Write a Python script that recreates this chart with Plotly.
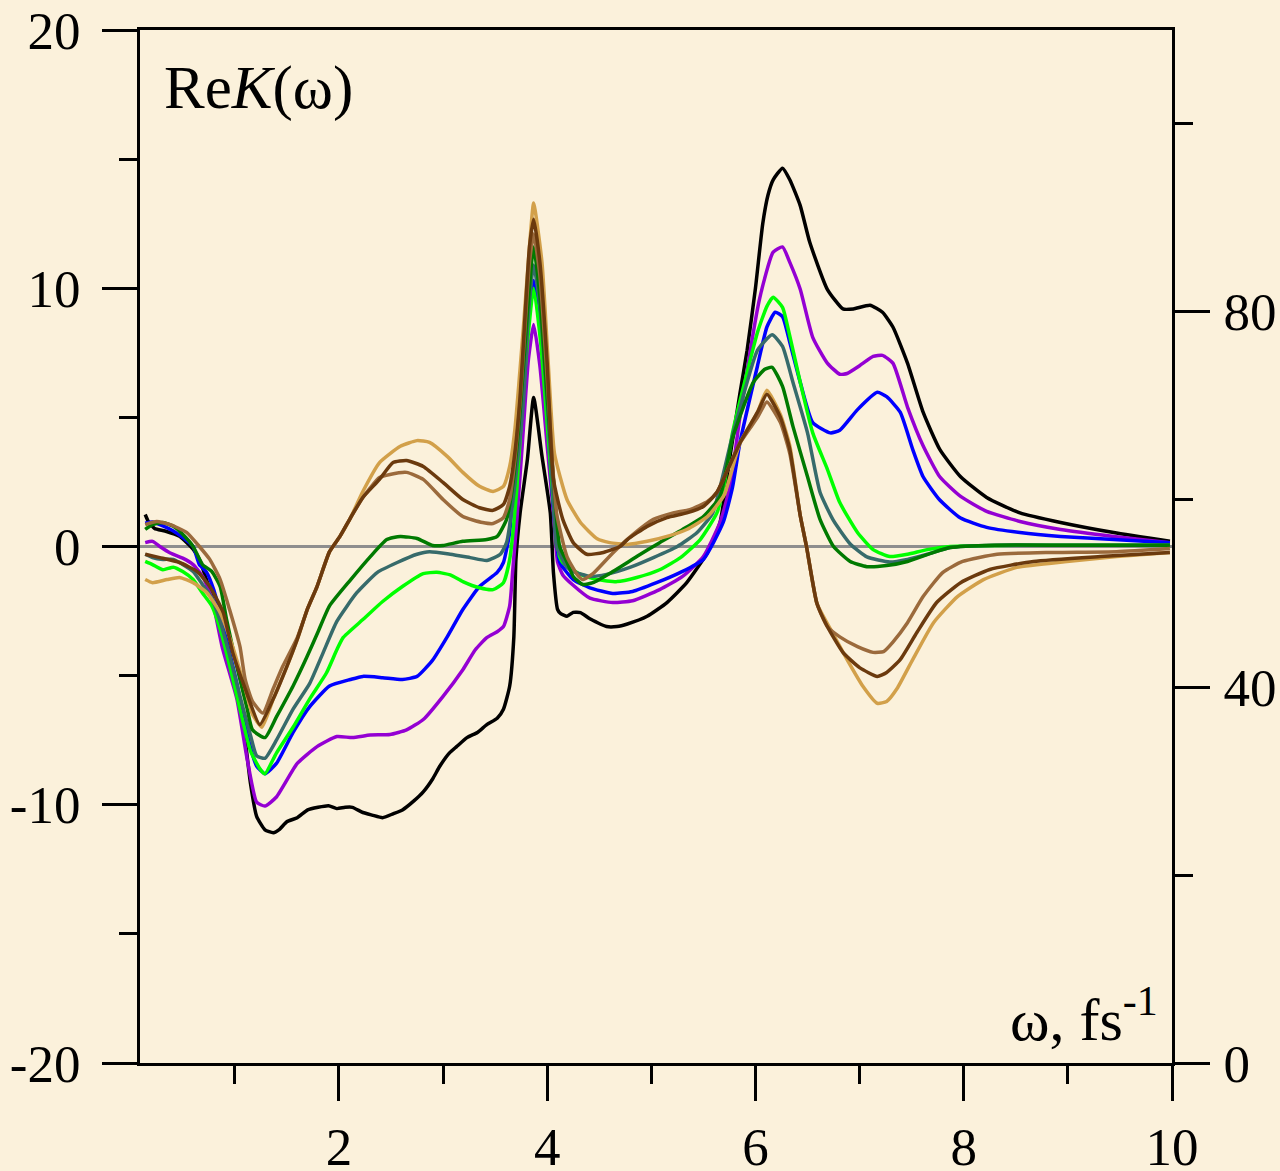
import plotly.graph_objects as go

# ---------------- data ----------------
black_x = [0.14,0.17,0.23,0.33,0.47,0.60,0.66,0.73,0.80,0.86,0.92,1.02,1.10,1.15,1.21,1.29,1.37,1.43,1.50,1.60,1.70,1.80,1.90,1.98,2.06,2.13,2.23,2.32,2.42,2.52,2.61,2.72,2.81,2.90,2.97,3.06,3.13,3.23,3.33,3.42,3.52,3.58,3.64,3.68,3.70,3.74,3.81,3.87,3.95,4.03,4.06,4.10,4.13,4.19,4.25,4.32,4.41,4.57,4.67,4.77,4.96,5.15,5.34,5.54,5.66,5.76,5.85,5.92,6.00,6.07,6.12,6.17,6.26,6.33,6.43,6.52,6.69,6.84,6.94,7.10,7.22,7.32,7.46,7.61,7.77,7.97,8.22,8.54,8.93,9.44,9.98]
black_y = [1.24,0.97,0.7,0.6,0.4,-0.1,-0.5,-1.3,-2.2,-3.0,-4.0,-5.65,-7.5,-9.15,-10.45,-10.97,-11.08,-10.95,-10.66,-10.5,-10.2,-10.1,-10.04,-10.15,-10.1,-10.1,-10.3,-10.4,-10.5,-10.35,-10.2,-9.85,-9.5,-9.0,-8.5,-8.0,-7.75,-7.4,-7.2,-6.9,-6.65,-6.3,-5.4,-3.5,-0.5,1.3,3.37,5.77,3.5,1.3,-1.0,-2.44,-2.6,-2.7,-2.55,-2.56,-2.8,-3.1,-3.1,-3.0,-2.7,-2.17,-1.4,-0.23,0.93,3.6,5.9,7.6,10.0,12.5,13.6,14.2,14.65,14.2,13.2,11.8,9.96,9.2,9.2,9.34,9.07,8.5,7.1,5.2,3.76,2.7,1.9,1.3,0.93,0.54,0.2]

purple_x = [0.14,0.21,0.28,0.38,0.50,0.60,0.69,0.78,0.88,1.02,1.12,1.21,1.29,1.40,1.60,1.79,1.98,2.13,2.30,2.49,2.65,2.81,3.00,3.19,3.31,3.42,3.52,3.58,3.64,3.67,3.71,3.76,3.82,3.87,3.93,4.00,4.06,4.10,4.15,4.25,4.41,4.63,4.82,5.08,5.30,5.50,5.66,5.76,5.85,6.04,6.17,6.26,6.33,6.43,6.55,6.69,6.81,6.88,7.00,7.13,7.22,7.32,7.46,7.61,7.77,7.97,8.22,8.54,8.93,9.44,9.98]
purple_y = [0.15,0.2,0.0,-0.25,-0.45,-0.7,-1.15,-2.0,-3.9,-5.9,-8.25,-9.9,-10.05,-9.7,-8.4,-7.75,-7.36,-7.4,-7.3,-7.28,-7.1,-6.7,-5.8,-4.77,-4.0,-3.53,-3.3,-3.1,-2.3,-0.9,1.1,3.9,7.25,8.6,7.0,3.9,1.3,-0.6,-1.1,-1.5,-2.0,-2.17,-2.1,-1.67,-1.16,-0.39,0.93,2.4,5.0,9.6,11.4,11.6,11.0,9.96,8.1,7.1,6.67,6.7,7.0,7.36,7.4,7.1,5.4,3.9,2.7,1.94,1.36,0.97,0.66,0.39,0.15]

blue_x = [0.14,0.21,0.31,0.41,0.50,0.60,0.66,0.73,0.80,0.86,0.92,1.02,1.12,1.21,1.29,1.40,1.56,1.72,1.91,2.11,2.23,2.42,2.61,2.75,2.90,3.04,3.19,3.35,3.52,3.58,3.64,3.67,3.72,3.78,3.87,3.94,4.00,4.06,4.12,4.25,4.41,4.63,4.82,5.05,5.28,5.50,5.69,5.78,5.85,6.02,6.11,6.19,6.26,6.33,6.43,6.55,6.72,6.81,6.98,7.17,7.26,7.39,7.51,7.61,7.77,7.97,8.22,8.54,8.93,9.44,9.98]
blue_y = [0.9,0.95,0.8,0.6,0.35,0.0,-0.7,-1.0,-1.7,-2.6,-3.6,-5.3,-7.3,-8.5,-8.8,-8.4,-7.2,-6.2,-5.4,-5.15,-5.03,-5.08,-5.15,-5.03,-4.4,-3.5,-2.44,-1.55,-1.0,-0.62,0.54,2.3,5.0,8.0,10.3,8.3,5.0,1.5,-0.6,-1.28,-1.6,-1.82,-1.74,-1.4,-1.0,-0.5,0.93,2.3,4.0,7.0,8.5,9.07,8.9,7.9,6.36,4.8,4.4,4.5,5.3,5.97,5.8,5.2,3.76,2.7,1.8,1.1,0.74,0.54,0.39,0.27,0.15]

lime_x = [0.14,0.21,0.31,0.41,0.50,0.60,0.69,0.78,0.86,0.95,1.05,1.15,1.24,1.29,1.40,1.56,1.72,1.88,1.98,2.04,2.23,2.42,2.61,2.81,2.94,3.07,3.19,3.35,3.48,3.58,3.64,3.71,3.77,3.87,3.94,4.01,4.07,4.12,4.15,4.32,4.48,4.67,4.86,5.08,5.28,5.47,5.63,5.70,5.78,6.02,6.11,6.17,6.26,6.33,6.43,6.55,6.69,6.81,6.98,7.13,7.29,7.46,7.65,7.87,8.5,9.0,9.98]
lime_y = [-0.58,-0.7,-0.9,-0.8,-0.97,-1.28,-1.8,-2.3,-3.2,-4.6,-6.3,-7.9,-8.6,-8.8,-8.0,-7.0,-5.9,-4.9,-4.0,-3.53,-2.83,-2.13,-1.55,-1.05,-1.0,-1.1,-1.36,-1.6,-1.67,-1.4,-0.5,2.3,6.0,10.0,7.8,4.2,1.2,-0.4,-0.62,-1.08,-1.28,-1.36,-1.2,-0.9,-0.43,0.27,1.3,2.4,4.4,8.3,9.3,9.65,9.26,8.14,6.36,4.4,3.0,1.7,0.54,-0.12,-0.39,-0.3,-0.12,0.0,0.05,0.05,0.05]

slate_x = [0.14,0.21,0.31,0.41,0.50,0.60,0.69,0.78,0.86,0.95,1.05,1.15,1.21,1.29,1.40,1.56,1.72,1.85,1.98,2.17,2.37,2.56,2.75,2.87,3.07,3.26,3.42,3.55,3.61,3.67,3.77,3.82,3.87,3.93,4.00,4.06,4.09,4.19,4.25,4.41,4.57,4.80,5.02,5.25,5.44,5.59,5.78,6.02,6.16,6.26,6.36,6.50,6.62,6.75,6.91,7.07,7.29,7.46,7.65,7.87,8.3,9.0,9.98]
slate_y = [-0.3,-0.43,-0.5,-0.5,-0.7,-0.97,-1.47,-2.0,-2.9,-4.2,-5.8,-7.3,-8.1,-8.2,-7.5,-6.3,-5.3,-4.1,-2.9,-1.8,-1.0,-0.62,-0.3,-0.2,-0.3,-0.43,-0.54,-0.3,0.15,1.7,5.5,9.0,10.9,9.3,5.5,1.8,0.0,-0.8,-0.97,-1.16,-1.08,-0.8,-0.43,0.0,0.54,1.3,4.3,7.6,8.2,7.75,6.36,4.4,2.1,1.0,0.1,-0.4,-0.6,-0.5,-0.3,-0.04,0.05,0.05,0.05]

green_x = [0.14,0.21,0.31,0.41,0.50,0.60,0.69,0.78,0.86,0.92,1.02,1.12,1.17,1.29,1.40,1.56,1.69,1.80,1.91,2.11,2.30,2.46,2.59,2.75,2.90,3.00,3.19,3.42,3.52,3.61,3.67,3.74,3.81,3.87,3.93,4.00,4.06,4.12,4.19,4.25,4.34,4.44,4.63,4.86,5.08,5.30,5.50,5.66,5.78,5.98,6.09,6.16,6.26,6.36,6.50,6.62,6.75,6.91,7.07,7.26,7.46,7.71,7.87,8.3,9.0,9.98]
green_y = [0.66,0.85,0.93,0.78,0.47,0.0,-0.7,-0.97,-1.55,-2.8,-4.65,-6.3,-7.1,-7.4,-6.6,-5.4,-4.3,-3.3,-2.3,-1.3,-0.4,0.27,0.39,0.31,0.04,0.04,0.2,0.27,0.39,1.05,2.4,5.2,9.07,11.6,9.7,5.8,2.6,0.0,-0.6,-1.16,-1.47,-1.4,-0.97,-0.39,0.15,0.66,1.16,1.94,4.2,6.36,6.86,6.94,6.2,4.65,2.7,1.05,0.0,-0.58,-0.78,-0.74,-0.58,-0.23,-0.04,0.05,0.05,0.05]

gold_x = [0.14,0.21,0.35,0.47,0.60,0.73,0.86,0.98,1.10,1.17,1.26,1.37,1.50,1.60,1.70,1.79,1.91,2.01,2.11,2.23,2.39,2.59,2.75,2.87,3.04,3.19,3.35,3.48,3.58,3.64,3.69,3.77,3.83,3.87,3.95,4.01,4.07,4.19,4.32,4.48,4.60,4.77,4.96,5.15,5.34,5.54,5.70,5.85,6.02,6.11,6.24,6.33,6.43,6.49,6.59,6.72,6.88,7.03,7.17,7.26,7.36,7.51,7.71,7.94,8.19,8.51,8.99,9.47,9.98]
gold_y = [-1.28,-1.4,-1.28,-1.2,-1.4,-1.78,-2.56,-3.88,-5.5,-6.5,-7.0,-5.9,-4.65,-3.6,-2.4,-1.55,-0.2,0.39,1.1,2.13,3.25,3.88,4.1,4.03,3.49,2.87,2.33,2.13,2.33,3.1,4.53,8.4,11.6,13.3,11.0,7.1,3.6,1.82,0.93,0.3,0.15,0.08,0.2,0.39,0.66,1.16,2.0,4.0,5.2,6.05,5.1,3.9,1.2,0.0,-2.2,-3.2,-4.38,-5.4,-6.07,-6.0,-5.5,-4.38,-2.95,-1.94,-1.28,-0.81,-0.58,-0.39,-0.23]

mbrown_x = [0.14,0.25,0.38,0.54,0.66,0.76,0.86,0.95,1.05,1.10,1.17,1.27,1.37,1.46,1.60,1.70,1.79,1.91,2.01,2.11,2.23,2.39,2.49,2.65,2.81,3.00,3.19,3.38,3.48,3.58,3.64,3.69,3.74,3.77,3.83,3.87,3.93,4.00,4.09,4.19,4.29,4.34,4.44,4.63,4.82,5.02,5.21,5.37,5.54,5.63,5.85,6.02,6.11,6.24,6.33,6.43,6.49,6.59,6.69,6.81,6.98,7.13,7.23,7.32,7.46,7.61,7.80,7.99,8.32,8.83,9.47,9.98]
mbrown_y = [0.85,0.97,0.85,0.54,0.0,-0.5,-1.28,-2.44,-3.88,-5.15,-6.0,-6.45,-5.5,-4.65,-3.53,-2.4,-1.55,-0.2,0.39,1.1,1.9,2.67,2.79,2.87,2.6,1.82,1.16,0.93,0.89,1.12,1.82,3.37,5.6,7.4,11.0,12.1,10.5,6.5,1.3,-0.39,-1.1,-1.28,-1.05,-0.25,0.45,1.05,1.3,1.43,1.74,2.1,4.0,5.0,5.6,4.8,3.6,1.2,0.0,-2.2,-3.1,-3.5,-3.88,-4.1,-4.07,-3.7,-2.95,-1.94,-1.0,-0.58,-0.3,-0.23,-0.2,-0.08]

dbrown_x = [0.14,0.28,0.47,0.64,0.76,0.89,0.98,1.10,1.24,1.37,1.50,1.60,1.70,1.79,1.91,2.01,2.11,2.23,2.39,2.52,2.65,2.81,3.00,3.19,3.35,3.48,3.58,3.64,3.69,3.74,3.77,3.83,3.87,3.93,4.00,4.06,4.15,4.25,4.38,4.54,4.70,4.77,4.96,5.15,5.34,5.50,5.63,5.85,6.02,6.11,6.24,6.33,6.43,6.49,6.59,6.69,6.84,7.00,7.17,7.26,7.39,7.55,7.74,7.97,8.25,8.67,9.31,9.98]
dbrown_y = [-0.3,-0.43,-0.62,-0.97,-1.55,-2.56,-4.1,-5.5,-6.9,-5.9,-4.65,-3.6,-2.4,-1.55,-0.2,0.39,1.1,1.9,2.6,3.25,3.33,3.1,2.48,1.82,1.5,1.4,1.63,2.33,3.64,5.8,7.75,11.6,12.67,11.0,7.1,2.6,1.05,0.15,-0.3,-0.23,0.0,0.27,0.78,1.12,1.3,1.55,2.1,4.0,5.2,5.9,5.0,3.76,1.2,0.0,-2.2,-3.1,-4.1,-4.69,-5.03,-4.88,-4.38,-3.33,-2.17,-1.4,-0.89,-0.58,-0.39,-0.23]

x_ticks = [2, 4, 6, 8, 10]
x_minor = [1, 3, 5, 7, 9]
y_ticks = [-20, -10, 0, 10, 20]
y_ticktext = ["-20", "-10", "0", "10", "20"]
y_minor = [-15, -5, 5, 15]
y2_ticks = [0, 40, 80]
y2_minor = [20, 60, 100]

# ---------------- figure ----------------
FONT = "Liberation Serif, Times New Roman, serif"
BG = "#FBF1DB"

series = [
    (black_x, black_y, "#000000"),
    (purple_x, purple_y, "#9400D3"),
    (blue_x, blue_y, "#0000FF"),
    (lime_x, lime_y, "#00FF00"),
    (slate_x, slate_y, "#376B6B"),
    (green_x, green_y, "#007A00"),
    (gold_x, gold_y, "#D2A04A"),
    (mbrown_x, mbrown_y, "#9B6A3C"),
    (dbrown_x, dbrown_y, "#6B3A0E"),
]

fig = go.Figure()
for xs, ys, col in series:
    assert len(xs) == len(ys), (col, len(xs), len(ys))
    fig.add_trace(go.Scatter(
        x=xs, y=ys, mode="lines",
        line=dict(color=col, width=3.5, shape="spline", smoothing=0.5),
        showlegend=False, hoverinfo="skip"))

# invisible trace to attach the right-hand axis
fig.add_trace(go.Scatter(x=[5], y=[50], yaxis="y2", mode="markers",
                         marker=dict(opacity=0), showlegend=False, hoverinfo="skip"))

tickfont = dict(family=FONT, size=53, color="black")

fig.update_layout(
    width=1280, height=1171,
    margin=dict(l=140, r=108, t=30, b=108, autoexpand=False),
    paper_bgcolor=BG, plot_bgcolor=BG,
    font=dict(family=FONT, color="black"),
    xaxis=dict(
        range=[0.09, 10.0], tickmode="array", tickvals=x_ticks,
        ticks="outside", ticklen=35, tickwidth=3, tickcolor="black",
        minor=dict(tickmode="array", tickvals=x_minor, ticks="outside",
                   ticklen=18, tickwidth=3, tickcolor="black", showgrid=False),
        showline=True, linewidth=3, linecolor="black", mirror=True,
        showgrid=False, zeroline=False, tickfont=tickfont, ticklabelstandoff=0,
        automargin=False,
    ),
    yaxis=dict(
        range=[-20, 20], tickmode="array", tickvals=y_ticks, ticktext=y_ticktext,
        ticks="outside", ticklen=35, tickwidth=3, tickcolor="black",
        minor=dict(tickmode="array", tickvals=y_minor, ticks="outside",
                   ticklen=18, tickwidth=3, tickcolor="black", showgrid=False),
        showline=True, linewidth=3, linecolor="black",
        showgrid=False, zeroline=True, zerolinecolor="#8E8E8E", zerolinewidth=3,
        tickfont=tickfont, ticklabelstandoff=11, automargin=False,
    ),
    yaxis2=dict(
        overlaying="y", side="right", anchor="x",
        range=[0, 110], tickmode="array", tickvals=y2_ticks,
        ticks="outside", ticklen=35, tickwidth=3, tickcolor="black",
        minor=dict(tickmode="array", tickvals=y2_minor, ticks="outside",
                   ticklen=18, tickwidth=3, tickcolor="black", showgrid=False),
        showline=True, linewidth=3, linecolor="black",
        showgrid=False, zeroline=False, tickfont=tickfont, ticklabelstandoff=3,
        automargin=False,
    ),
    annotations=[
        dict(text="Re<i>K</i>(ω)", xref="paper", yref="paper",
             x=0.021, y=0.979, xanchor="left", yanchor="top", showarrow=False,
             font=dict(family=FONT, size=61, color="black")),
        dict(text="ω, fs<sup>-1</sup>", xref="paper", yref="paper",
             x=0.988, y=0.008, xanchor="right", yanchor="bottom", showarrow=False,
             font=dict(family=FONT, size=60, color="black")),
    ],
)

fig.write_html("out.html")
